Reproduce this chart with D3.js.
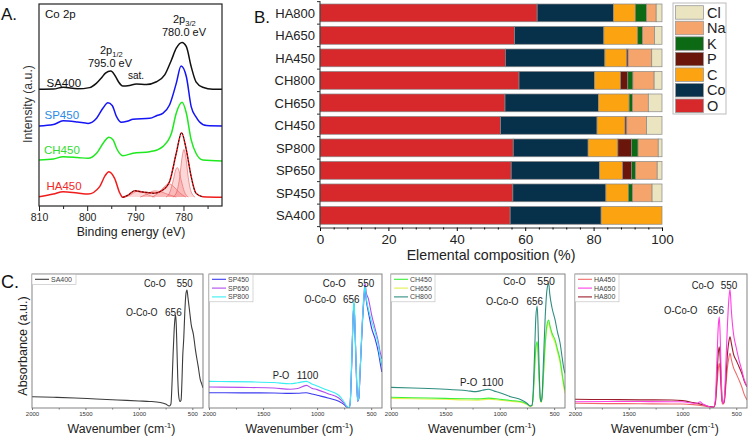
<!DOCTYPE html>
<html><head><meta charset="utf-8">
<script src="https://cdn.jsdelivr.net/npm/d3@7"></script>
<style>
body{margin:0;background:#fff}
svg{display:block}
text{font-family:"Liberation Sans",Arial,Helvetica,sans-serif}
</style></head>
<body><svg id="c" width="749" height="438"></svg>
<script>
// ---------------- DATA ----------------
// Panel A: XPS Co 2p spectra [binding energy eV, intensity a.u.]
const xpsSA400 = [[810,57.8],[807,57.9],[805,58.8],[802,58.0],[799.5,58.6],[798.1,60.7],[797,63.5],[796.2,65.8],[795.1,66.8],[794.2,64.5],[793.5,61.5],[792.6,59.4],[791.2,59.7],[789.8,60.4],[787.7,60.2],[785.6,61.5],[783.9,64.9],[782.5,72.3],[781.5,78.1],[780.3,81.0],[779.4,78.9],[778.4,69.0],[777.4,61.5],[776.0,58.8],[773.9,57.8],[772,57.8]];
const xpsSP450 = [[810,39.6],[807,40.3],[805,42.2],[802,41.6],[799.8,40.9],[798,43.6],[796.7,48.5],[795.7,51.1],[794.8,49.8],[793.9,44.2],[792.9,41.4],[791.5,42.1],[790.5,42.9],[787,43.4],[785.5,44.8],[784.3,45.9],[782.9,50.0],[781.5,60.7],[780.5,69.3],[779.4,64.0],[778.4,49.2],[777.4,44.1],[776.7,41.7],[775.2,39.8],[772,39.6]];
const xpsCH450 = [[810,22.8],[807,23.3],[805,24.4],[802,24.0],[799.8,23.6],[798,26.2],[796.5,31.7],[795.5,34.0],[794.6,32.7],[793.9,28.6],[792.6,24.9],[790.5,26.1],[787,26.9],[785.5,27.7],[784.3,29.4],[782.5,36.0],[781.5,45.9],[780.3,51.3],[779.4,45.9],[778.4,32.7],[777.4,26.1],[776,22.8],[772,22.3]];
const xpsHA450 = [[810,4.6],[807,5.9],[805,7.1],[802,6.4],[799.8,5.9],[797.4,9.6],[796.3,14.9],[795.5,17.0],[794.3,13.7],[793.2,6.3],[792.6,4.3],[791.5,5.4],[790.1,7.6],[789,7.1],[787.5,6.7],[786.2,6.3],[784.3,7.9],[782.9,12.0],[781.5,26.1],[780.4,36.3],[779.4,27.7],[778.4,14.5],[777.4,6.3],[776,4.6],[772,4.3]];
// HA450 fitted components
const fitMain = [[782.2,4.4],[781.4,7],[780.8,14],[780.3,24],[779.9,28],[779.5,24],[779.0,14],[778.4,7],[777.6,4.4]];
const fitShoulder = [[783.6,4.4],[782.8,7],[782.1,13],[781.6,18],[781.3,19],[781.0,18],[780.5,13],[779.8,7],[779.0,4.4]];
const fitBroad = [[786.5,4.4],[785.2,6.5],[784.0,9.5],[783.0,11],[782.0,9.5],[780.8,6.5],[779.5,4.4]];
const fitSat1 = [[789,4.4],[787.5,6],[786,7.5],[785,7.2],[783.5,6],[781.5,4.4]];
const fitSat2 = [[792.5,4.4],[791,5.5],[790,7],[789.3,7.5],[788.5,7],[787.3,5.5],[786,4.4]];
const xpsTicks = [810,800,790,780];

// Panel B: elemental composition (%)
const samples = ["HA800","HA650","HA450","CH800","CH650","CH450","SP800","SP650","SP450","SA400"];
const elemO  = [63.5,56.9,54.2,58.2,54.1,52.8,56.5,55.9,56.4,55.6];
const elemCo = [22.3,26.1,29.1,22.1,27.3,28.2,21.9,25.8,27.2,26.6];
const elemC  = [6.4,9.9,6.4,7.6,9.0,8.2,8.7,6.8,6.6,17.8];
const elemP  = [0,0,0.4,2.1,0,0.5,4.0,2.6,0,0];
const elemK  = [3.3,1.4,0,1.5,1.0,0,1.9,1.2,1.2,0];
const elemNa = [2.8,3.5,6.9,6.2,4.6,5.8,5.9,6.3,5.7,0];
const elemCl = [1.7,2.2,3.0,2.3,4.0,4.5,1.1,1.4,2.9,0];
const elements = ["O","Co","C","P","K","Na","Cl"];
const compTicks = [0,20,40,60,80,100];

// Panel C: FTIR spectra [wavenumber cm-1, absorbance a.u.]
const irSA400 = [[2000,8.4],[1800,8.0],[1600,7.5],[1400,6.7],[1200,6.0],[1000,5.2],[900,4.9],[800,4.1],[750,3.0],[715,1.5],[700,3.0],[690,18],[680,40],[670,58],[662,67],[656,69.4],[650,62],[644,45],[636,22],[626,8],[615,4.8],[605,6],[597,20],[590,38],[580,52],[570,72],[560,85],[550,88],[540,82],[525,72],[510,62],[490,55],[470,43],[445,31],[425,21],[412,18],[400,15]];
const irSP450 = [[2000,11.4],[1700,11.3],[1400,11.2],[1250,10.9],[1180,11.0],[1100,11.4],[1050,10.5],[1000,9.5],[900,7.5],[800,5.0],[750,2.5],[720,0.5],[705,0.3],[695,3],[680,34],[668,66],[659,77.8],[650,60],[640,33],[625,5],[615,7],[603,26],[582,62],[566,82],[557,89],[545,80],[526,71.6],[495,59.2],[464,51.7],[434,41.8],[418,34.3],[402,26.9]];
const irSP650 = [[2000,15.7],[1700,15.4],[1400,14.9],[1250,14.0],[1180,14.5],[1100,16.9],[1050,14.8],[1000,13.7],[900,10.7],[800,7.5],[750,3.5],[720,0.5],[705,0.3],[695,3],[680,34],[668,66],[659,78],[650,60],[640,33],[625,5],[615,7],[603,26],[582,64],[566,86],[557,92.8],[545,86],[526,81.6],[495,69.2],[464,59.2],[434,49.3],[418,42],[402,36.8]];
const irSP800 = [[2000,19.9],[1800,19.7],[1600,19.5],[1400,19.0],[1250,18.1],[1180,18.8],[1100,19.9],[1050,18.0],[1000,16.4],[900,13.2],[800,9.5],[750,4.5],[720,0.7],[705,0.3],[695,3],[680,36],[668,68],[659,81],[650,62],[640,34],[625,5.4],[615,8],[603,27],[582,64],[566,84],[557,91],[545,82],[526,74],[495,64.2],[464,56.7],[434,46.8],[418,38],[402,31.9]];
const irCH450 = [[2000,8.0],[1800,7.7],[1500,7.2],[1300,6.9],[1200,6.8],[1100,7.4],[1000,6.5],[900,5.6],[800,4.7],[750,3],[720,1.5],[705,1.8],[695,6],[680,28],[668,45],[656,49.5],[648,42],[638,22],[628,7],[620,4.7],[610,8],[598,25],[582,48],[566,62],[550,65.7],[540,62],[520,56],[491,50.7],[470,44],[445,35.8],[425,25],[412,18],[400,13.4]];
const irCH650 = [[2000,7.2],[1800,6.9],[1500,6.5],[1300,6.0],[1200,5.9],[1100,6.6],[1000,5.8],[900,5.0],[800,4.2],[750,2.6],[720,1.2],[705,1.5],[695,6],[680,27],[668,44],[656,48.5],[648,41],[638,21],[628,6.5],[620,4.2],[610,7.5],[598,24],[582,47],[566,60],[550,63.5],[540,60],[520,54],[491,48.5],[470,42],[445,33.5],[425,23],[412,16],[400,11]];
const irCH800 = [[2000,15.4],[1800,14.9],[1500,14.0],[1300,12.9],[1218,12.2],[1160,13.2],[1105,14.0],[1050,12.6],[1000,11.4],[900,8.4],[800,6.0],[750,3.5],[720,1.5],[705,1.8],[695,8],[680,40],[668,68],[656,76],[648,62],[638,30],[628,8],[620,4.7],[610,10],[598,35],[582,68],[566,88],[550,93],[540,85],[520,75],[491,65.7],[470,57],[445,48.3],[425,37],[412,30],[400,25.9]];
const irHA450 = [[2000,3.5],[1700,3.3],[1400,3.2],[1100,3.0],[1000,3.0],[900,2.5],[800,1.5],[740,0.7],[710,0.6],[695,3],[680,16],[668,28],[658,33.3],[650,27],[640,12],[630,3],[620,3],[610,5],[598,15],[582,30],[568,38],[558,40.8],[545,36],[525,30],[502,25.9],[475,21],[449,15.9],[425,10],[400,6]];
const irHA650 = [[2000,4.7],[1700,4.9],[1400,4.8],[1100,4.7],[1000,4.7],[900,3.5],[860,3.6],[837,4.7],[815,3.2],[770,1.5],[740,0.8],[710,0.8],[695,6],[680,35],[668,60],[658,68],[650,55],[640,25],[630,5],[620,3.5],[610,8],[598,30],[582,62],[568,82],[558,88.6],[545,72],[525,55],[502,45.7],[475,36],[449,28.4],[425,21],[400,15.9]];
const irHA800 = [[2000,6.5],[1700,6.3],[1400,6.1],[1100,6.0],[1000,5.5],[900,4.0],[800,2.2],[740,1.0],[710,0.8],[695,4],[680,22],[668,40],[658,45.7],[650,38],[640,18],[630,5],[620,3.5],[610,6],[598,20],[582,40],[568,50],[558,53.2],[545,48],[525,40],[502,35.8],[475,31],[449,25.9],[425,20],[400,15.9]];
const irTicks = [2000,1500,1000,500];

// ---------------- DRAW ----------------
const svg = d3.select("#c");

// ===== Panel A =====
const A = svg.append("g");
const ax = d3.scaleLinear().domain([810,772]).range([39,222]);
const ay = d3.scaleLinear().domain([0,100]).range([206,4]);
const lineA = d3.line().x(d=>ax(d[0])).y(d=>ay(d[1])).curve(d3.curveMonotoneX);

[fitSat2, fitSat1, fitBroad, fitShoulder, fitMain].forEach(c=>{
  A.append("path").datum(c).attr("d", lineA)
   .attr("fill","rgba(245,110,110,0.28)").attr("stroke","#e25a5a").attr("stroke-width",0.6);
});
A.append("path").datum(xpsHA450).attr("d",lineA).attr("fill","none").attr("stroke","#f01c1c").attr("stroke-width",1.5);
A.append("path").datum(xpsHA450.filter(d=>d[0]<=792.6 && d[0]>=775)).attr("d",lineA)
 .attr("fill","none").attr("stroke","#111").attr("stroke-width",0.9).attr("stroke-dasharray","2,1.5");
A.append("path").datum(xpsCH450).attr("d",lineA).attr("fill","none").attr("stroke","#1ee81e").attr("stroke-width",1.5);
A.append("path").datum(xpsSP450).attr("d",lineA).attr("fill","none").attr("stroke","#1414f5").attr("stroke-width",1.5);
A.append("path").datum(xpsSA400).attr("d",lineA).attr("fill","none").attr("stroke","#111").attr("stroke-width",1.5);

A.append("rect").attr("x",39).attr("y",4).attr("width",183).attr("height",202)
 .attr("fill","none").attr("stroke","#222").attr("stroke-width",1.2);
const axA = A.append("g").attr("transform","translate(0,206)")
 .call(d3.axisBottom(ax).tickValues(xpsTicks).tickSize(5).tickPadding(3).tickFormat(d3.format("d")));
axA.select(".domain").remove();
axA.selectAll("text").attr("font-size",10.5).attr("fill","#222").attr("font-family","Liberation Sans, Arial");
axA.selectAll("line").attr("stroke","#222");
A.append("g").attr("transform","translate(0,206)")
 .call(d3.axisBottom(ax).tickValues([805,795,785,775]).tickSize(3).tickFormat(""))
 .call(g=>g.select(".domain").remove()).selectAll("line").attr("stroke","#222");

A.append("text").attr("x",131).attr("y",236).attr("text-anchor","middle").attr("font-size",12.3).attr("fill","#222").text("Binding energy (eV)");
A.append("text").attr("transform","translate(32,104) rotate(-90)").attr("text-anchor","middle").attr("font-size",12.3).attr("fill","#333").text("Intensity (a.u.)");
A.append("text").attr("x",1).attr("y",20).attr("font-size",17).attr("fill","#111").text("A.");
A.append("text").attr("x",45).attr("y",18).attr("font-size",11.5).attr("fill","#111").text("Co 2p");
const t32 = A.append("text").attr("x",173).attr("y",23).attr("font-size",11).attr("fill","#111");
t32.append("tspan").text("2p");
t32.append("tspan").attr("font-size",7.5).attr("dy",2.5).text("3/2");
A.append("text").attr("x",184).attr("y",36).attr("text-anchor","middle").attr("font-size",11).attr("fill","#111").text("780.0 eV");
const t12 = A.append("text").attr("x",100).attr("y",54).attr("font-size",11).attr("fill","#111");
t12.append("tspan").text("2p");
t12.append("tspan").attr("font-size",7.5).attr("dy",2.5).text("1/2");
A.append("text").attr("x",110).attr("y",67).attr("text-anchor","middle").attr("font-size",11).attr("fill","#111").text("795.0 eV");
A.append("text").attr("x",128).attr("y",79).attr("font-size",10).attr("fill","#111").text("sat.");
A.append("text").attr("x",46.5).attr("y",87).attr("font-size",11.5).attr("fill","#111").text("SA400");
A.append("text").attr("x",44.5).attr("y",119).attr("font-size",11.5).attr("fill","#2b8be6").text("SP450");
A.append("text").attr("x",44).attr("y",153.5).attr("font-size",11.5).attr("fill","#2fdc2f").text("CH450");
A.append("text").attr("x",46.5).attr("y",190).attr("font-size",11.5).attr("fill","#f02a2a").text("HA450");

// ===== Panel B =====
const B = svg.append("g");
const elemColors = {O:"#d7282b",Co:"#07304b",C:"#fca312",P:"#6a160a",K:"#0b6a13",Na:"#f5a46b",Cl:"#ebe4c1"};
const elemArrays = {O:elemO,Co:elemCo,C:elemC,P:elemP,K:elemK,Na:elemNa,Cl:elemCl};
const rows = samples.map((s,i)=>{const r={sample:s}; elements.forEach(e=>r[e]=elemArrays[e][i]); return r;});
const stacked = d3.stack().keys(elements)(rows);
const bx = d3.scaleLinear().domain([0,100]).range([320,662]);
const by = d3.scaleBand().domain(samples).range([1.75,226.5]).paddingInner(0.21).paddingOuter(0.1);

stacked.forEach(layer=>{
  B.append("g").selectAll("rect").data(layer).join("rect")
   .attr("x",d=>bx(d[0])).attr("y",d=>by(d.data.sample))
   .attr("width",d=>Math.max(0,bx(d[1])-bx(d[0]))).attr("height",by.bandwidth())
   .attr("fill",elemColors[layer.key]).attr("stroke","#888").attr("stroke-width",0.7);
});
B.append("line").attr("x1",320).attr("x2",320).attr("y1",1).attr("y2",227.5).attr("stroke","#333").attr("stroke-width",1);
const bnd = samples.map(s=>by(s)-by.step()*by.paddingInner()/2).concat([by(samples[samples.length-1])+by.bandwidth()+by.step()*by.paddingInner()/2]);
B.selectAll(".yt").data(bnd).join("line").attr("x1",317).attr("x2",320).attr("y1",d=>d).attr("y2",d=>d).attr("stroke","#333");
B.selectAll(".yl").data(samples).join("text")
 .attr("x",315).attr("y",d=>by(d)+by.bandwidth()/2+4.8).attr("text-anchor","end")
 .attr("font-size",13).attr("fill","#222").text(d=>d);
const axB = B.append("g").attr("transform","translate(0,227.5)")
 .call(d3.axisBottom(bx).tickValues(compTicks).tickSize(3.5).tickPadding(3));
axB.select(".domain").attr("stroke","#333");
axB.selectAll("text").attr("font-size",13.5).attr("fill","#222").attr("font-family","Liberation Sans, Arial");
B.append("g").attr("transform","translate(0,227.5)")
 .call(d3.axisBottom(bx).tickValues(d3.range(0,101,4).filter(v=>v%20!==0)).tickSize(2).tickFormat(""))
 .call(g=>g.select(".domain").remove());
B.append("text").attr("x",491).attr("y",260).attr("text-anchor","middle").attr("font-size",14.2).attr("fill","#222").text("Elemental composition (%)");
B.append("text").attr("x",254).attr("y",23).attr("font-size",17).attr("fill","#111").text("B.");
B.append("rect").attr("x",673).attr("y",3).attr("width",53).attr("height",111).attr("fill","#fff").attr("stroke","#bbb");
const legOrder = elements.slice().reverse();
legOrder.forEach((e,i)=>{
  const y = 5.7 + i*15.55;
  B.append("rect").attr("x",675.5).attr("y",y).attr("width",28).attr("height",13.5).attr("fill",elemColors[e]).attr("stroke","#999").attr("stroke-width",0.8);
  B.append("text").attr("x",707).attr("y",y+11.8).attr("font-size",14.5).attr("fill","#222").text(e);
});

// ===== Panel C =====
const C = svg.append("g");
// labels: [text, left x, right x, baseline]
const irPanels = [
  {x0:32,x1:203,series:[["SA400",irSA400,"#3c3c3c"]],
   labels:[["Co-O",144,165.7,287],["550",176.7,192.7,287],["O-Co-O",126,157.5,316],["656",165,181.7,316]]},
  {x0:209,x1:382,series:[["SP450",irSP450,"#3b3bef"],["SP650",irSP650,"#b24bef"],["SP800",irSP800,"#38eef2"]],
   labels:[["Co-O",322.7,345.7,287],["550",357.7,374.3,287],["O-Co-O",304.5,336,303],["656",343,359.5,303],["P-O",272.7,289.3,379],["1100",296.7,318.3,379]]},
  {x0:391,x1:565,series:[["CH650",irCH650,"#e3ef4a"],["CH450",irCH450,"#3cef3c"],["CH800",irCH800,"#2f8e80"]],
   labels:[["Co-O",503.3,525.7,284.5],["550",537.3,555,284.5],["O-Co-O",486,518.5,305],["656",526.5,543,305],["P-O",460,477.3,386],["1100",481.7,503.3,386]]},
  {x0:575,x1:747,series:[["HA450",irHA450,"#f06a6a"],["HA800",irHA800,"#9b1c2c"],["HA650",irHA650,"#ff3fe4"]],
   labels:[["Co-O",691.7,714,289],["550",720.7,737.3,289],["O-Co-O",664,697.3,314],["656",707.3,724,314]]}
];
const legendOrder = [["SA400"],["SP450","SP650","SP800"],["CH450","CH650","CH800"],["HA450","HA650","HA800"]];
const cy = d3.scaleLinear().domain([0,100]).range([408,274]);
irPanels.forEach((p,pi)=>{
  const g = C.append("g");
  const cx = d3.scaleLinear().domain([2000,400]).range([p.x0,p.x1]);
  const ln = d3.line().x(d=>cx(d[0])).y(d=>cy(d[1])).curve(d3.curveMonotoneX);
  const clipId = "clip"+pi;
  g.append("clipPath").attr("id",clipId).append("rect").attr("x",p.x0).attr("y",274).attr("width",p.x1-p.x0).attr("height",134);
  const colorOf = {};
  p.series.forEach(s=>{
    colorOf[s[0]] = s[2];
    g.append("path").datum(s[1]).attr("d",ln).attr("fill","none").attr("stroke",s[2]).attr("stroke-width",1.1).attr("clip-path",`url(#${clipId})`);
  });
  g.append("rect").attr("x",p.x0).attr("y",274).attr("width",p.x1-p.x0).attr("height",134).attr("fill","none").attr("stroke","#777").attr("stroke-width",0.9);
  const axC = g.append("g").attr("transform","translate(0,408)")
   .call(d3.axisBottom(cx).tickValues(irTicks).tickSize(2).tickPadding(1.5).tickFormat(d3.format("d")));
  axC.select(".domain").remove();
  axC.selectAll("line").attr("stroke","#777");
  axC.selectAll("text").attr("font-size",6).attr("fill","#333").attr("font-family","Liberation Sans, Arial");
  g.append("g").attr("transform","translate(0,408)")
   .call(d3.axisBottom(cx).tickValues([1750,1250,750]).tickSize(1.5).tickFormat(""))
   .call(a=>a.select(".domain").remove()).selectAll("line").attr("stroke","#777");
  const names = legendOrder[pi];
  g.append("rect").attr("x",p.x0).attr("y",274.5).attr("width",44).attr("height",names.length*8.6+1.5)
   .attr("fill","#fff").attr("stroke","#bbb").attr("stroke-width",0.6);
  names.forEach((n,i)=>{
    const yy = 279.3 + i*8.8;
    g.append("line").attr("x1",p.x0+3).attr("x2",p.x0+17).attr("y1",yy).attr("y2",yy).attr("stroke",colorOf[n]).attr("stroke-width",1.1);
    g.append("text").attr("x",p.x0+19).attr("y",yy+2.4).attr("font-size",7).attr("fill","#444").text(n);
  });
  p.labels.forEach(l=>{
    g.append("text").attr("x",l[1]).attr("y",l[3]).attr("font-size",11).attr("fill","#222")
     .attr("textLength",l[2]-l[1]).attr("lengthAdjust","spacingAndGlyphs")
     .attr("font-family","Open Sans, Liberation Sans, sans-serif").text(l[0]);
  });
  const wt = g.append("text").attr("x",(p.x0+p.x1)/2+4).attr("y",433).attr("text-anchor","middle").attr("font-size",12.3).attr("fill","#222")
   .attr("font-family","Open Sans, Liberation Sans, sans-serif");
  wt.append("tspan").text("Wavenumber (cm");
  wt.append("tspan").attr("font-size",8).attr("dy",-5).text("-1");
  wt.append("tspan").attr("dy",5).text(")");
});
C.append("text").attr("transform","translate(27,346) rotate(-90)").attr("text-anchor","middle").attr("font-size",12.5).attr("fill","#222")
 .attr("font-family","Open Sans, Liberation Sans, sans-serif").text("Absorbance (a.u.)");
C.append("text").attr("x",1).attr("y",288).attr("font-size",18).attr("fill","#111").attr("font-family","Open Sans, Liberation Sans, sans-serif").text("C.");
</script>
</body></html>
